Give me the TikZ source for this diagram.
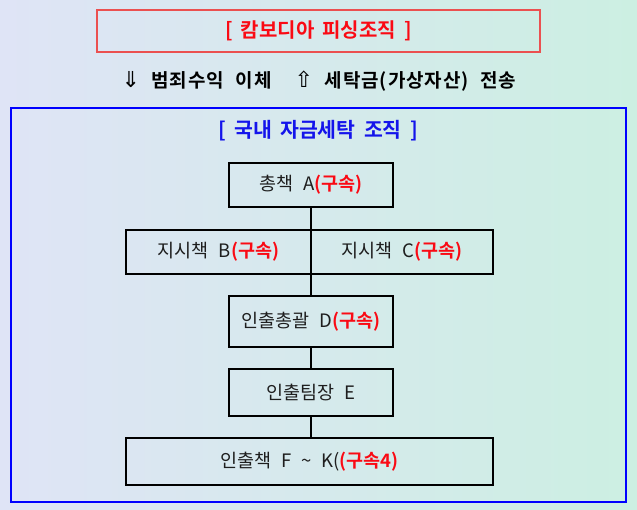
\documentclass[tikz,border=0pt]{standalone}
\usepackage{fontspec}
\setmainfont{Noto Sans CJK KR}[BoldFont={Noto Sans CJK KR Bold}, WordSpace=2.4]
\newfontfamily\titlefont{Noto Sans CJK KR Bold}[WordSpace=1.8]
\newfontfamily\flowfont{Noto Sans CJK KR Bold}[WordSpace=2.2, LetterSpace=5]
\newfontfamily\symfont{DejaVu Sans}
\definecolor{bgL}{RGB}{223,228,246}
\definecolor{bgR}{RGB}{204,239,226}
\definecolor{redtxt}{RGB}{250,10,20}
\definecolor{redline}{RGB}{235,80,80}
\definecolor{bluetxt}{RGB}{20,20,235}
\definecolor{boxtxt}{RGB}{30,30,30}
\newcommand{\arrest}[1]{\textcolor{redtxt}{\bfseries #1}}
\newcommand{\bigarrow}[1]{{\symfont\fontsize{22}{22}\selectfont #1}}
\tikzset{
  orgbox/.style={draw=black, line width=1.5pt, inner sep=0pt, text=boxtxt,
    font=\fontsize{18.5}{22}\selectfont},
  conn/.style={draw=black, line width=1.5pt},
}
\begin{document}
\begin{tikzpicture}[x=1pt,y=-1pt]
\useasboundingbox (0,0) rectangle (637,510);
\shade[left color=bgL, right color=bgR] (0,0) rectangle (637,510);
% top red box
\node[draw=redline, line width=1.3pt, minimum width=443pt, minimum height=42pt, inner sep=0pt,
  text=redtxt, font=\titlefont\fontsize{20}{22}\selectfont] (cam) at (318.5,31) {[ 캄보디아 피싱조직 ]};
\node[font=\flowfont\fontsize{19}{21}\selectfont, text=black] (flow) at (319,81)
  {\bigarrow{⇓} 범죄수익 이체\hspace{1.2em}\bigarrow{⇧} 세탁금(가상자산) 전송};
% blue frame
\node[draw=blue, line width=2pt, minimum width=615pt, minimum height=394pt, inner sep=0pt] (frame) at (318.5,305) {};
\node[text=bluetxt, font=\titlefont\fontsize{20.5}{22}\selectfont] (dom) at (318,131) {[ 국내 자금세탁 조직 ]};
% org boxes
\node[orgbox, minimum width=164pt, minimum height=44pt] (A) at (311,185) {총책 A\arrest{(구속)}};
\node[orgbox, minimum width=185pt, minimum height=44pt] (B) at (218.5,252) {지시책 B\arrest{(구속)}};
\node[orgbox, minimum width=182pt, minimum height=44pt] (C) at (402,252) {지시책 C\arrest{(구속)}};
\node[orgbox, minimum width=164pt, minimum height=51pt] (D) at (311,321.5) {인출총괄 D\arrest{(구속)}};
\node[orgbox, minimum width=164pt, minimum height=47pt] (E) at (311,392.5) {인출팀장 E};
\node[orgbox, minimum width=367pt, minimum height=47pt] (F) at (309.5,461.5) {인출책 F \textasciitilde{} K(\arrest{(구속4)}};
% connectors
\draw[conn] (A.south) -- (D.north);
\draw[conn] (D.south) -- (E.north);
\draw[conn] (E.south) -- (E.south |- F.north);
\end{tikzpicture}
\end{document}
